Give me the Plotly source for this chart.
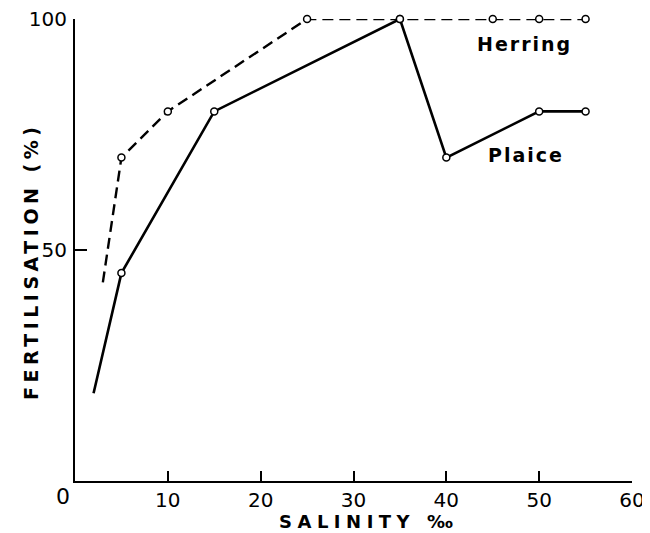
import plotly.graph_objects as go

# Data
herring_x = [3, 5, 10, 25, 35, 45, 50, 55]
herring_y = [43, 70, 80, 100, 100, 100, 100, 100]
plaice_x = [2, 5, 15, 35, 40, 50, 55]
plaice_y = [19, 45, 80, 100, 70, 80, 80]

x_ticks = [0, 10, 20, 30, 40, 50, 60]
x_tick_text = ["", "10", "20", "30", "40", "50", "60"]
y_ticks = [50, 100]
y_tick_text = ["50", "100"]

FONT = "DejaVu Sans"

def marker_opacity(n):
    return [0] + [1] * (n - 1)

fig = go.Figure()
fig.add_trace(go.Scatter(
    x=herring_x, y=herring_y, mode="lines+markers", name="Herring",
    line=dict(color="black", width=2.4, dash="11px,6px"),
    marker=dict(symbol="circle", size=7, color="white",
                opacity=marker_opacity(len(herring_x)),
                line=dict(color="black", width=1.5)),
    cliponaxis=False, showlegend=False,
))
fig.add_trace(go.Scatter(
    x=plaice_x, y=plaice_y, mode="lines+markers", name="Plaice",
    line=dict(color="black", width=2.6),
    marker=dict(symbol="circle", size=7, color="white",
                opacity=marker_opacity(len(plaice_x)),
                line=dict(color="black", width=1.5)),
    cliponaxis=False, showlegend=False,
))

# page body has a small margin, so the figure is sized to fit the window
fig.update_layout(
    template="none",
    width=642, height=525,
    margin=dict(l=67, r=18, t=11, b=52, autoexpand=False),
    paper_bgcolor="white", plot_bgcolor="white",
    font=dict(family=FONT, color="black"),
    xaxis=dict(
        range=[0, 60], tickvals=x_ticks, ticktext=x_tick_text,
        ticks="inside", ticklen=10, tickwidth=1.5, tickcolor="black",
        showline=True, linecolor="black", linewidth=2,
        showgrid=False, zeroline=False, mirror=False, automargin=False,
        tickfont=dict(family=FONT, size=20, color="black"),
        ticklabelstandoff=0, ticklabeloverflow="allow",
    ),
    yaxis=dict(
        range=[0, 100], tickvals=y_ticks, ticktext=y_tick_text,
        ticks="inside", ticklen=12, tickwidth=1.5, tickcolor="black",
        showline=True, linecolor="black", linewidth=2,
        showgrid=False, zeroline=False, mirror=False, automargin=False,
        tickfont=dict(family=FONT, size=20, color="black"),
        ticklabelstandoff=2, ticklabeloverflow="allow",
    ),
    annotations=[
        dict(text='<span style="letter-spacing:2px">Herring</span>',
             x=43.1, y=94.6, xref="x", yref="y", xanchor="left", yanchor="middle",
             showarrow=False, font=dict(family=FONT, size=19, color="black", weight="bold")),
        dict(text='<span style="letter-spacing:2px">Plaice</span>',
             x=44.3, y=70.6, xref="x", yref="y", xanchor="left", yanchor="middle",
             showarrow=False, font=dict(family=FONT, size=19, color="black", weight="bold")),
        dict(text="0", x=0, y=0, xref="paper", yref="paper",
             xanchor="center", yanchor="middle", xshift=-12, yshift=-15,
             showarrow=False, font=dict(family=FONT, size=22, color="black")),
        dict(text='<span style="letter-spacing:5.5px">SALINITY ‰</span>',
             x=0.5, y=0, xref="paper", yref="paper",
             xanchor="center", yanchor="middle", xshift=15, yshift=-40,
             showarrow=False, font=dict(family=FONT, size=18, color="black", weight="bold")),
        dict(text='<span style="letter-spacing:4.5px">FERTILISATION (%)</span>',
             x=0, y=0.5, xref="paper", yref="paper", textangle=-90,
             xanchor="center", yanchor="middle", xshift=-44, yshift=-12,
             showarrow=False, font=dict(family=FONT, size=19, color="black", weight="bold")),
    ],
)

fig.write_html("out.html")
